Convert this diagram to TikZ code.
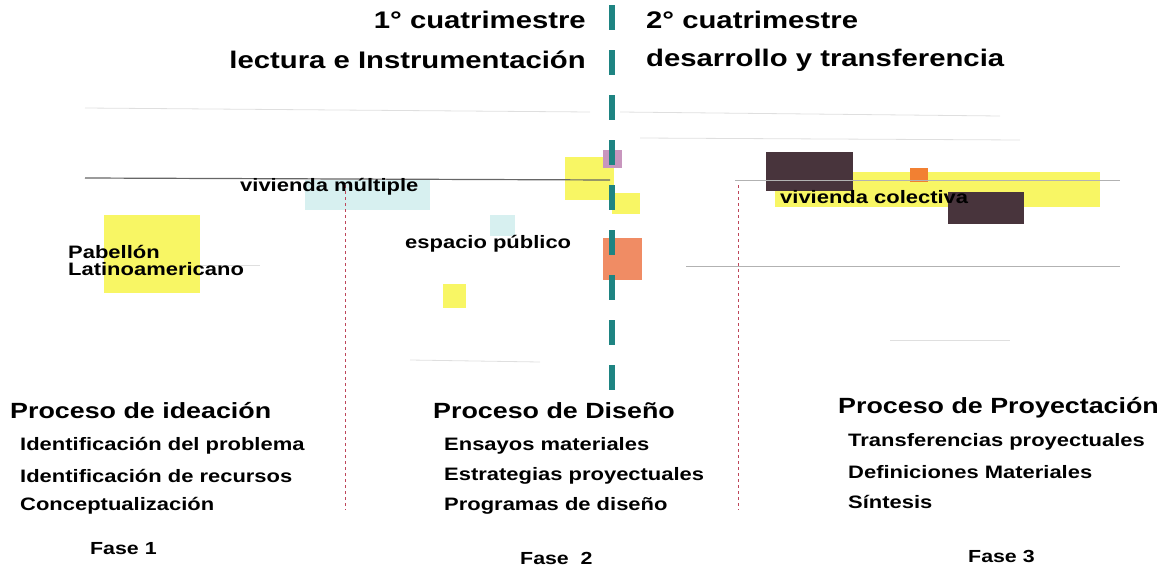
\documentclass[tikz,border=0pt]{standalone}
\usepackage{fontspec}
\setmainfont[FakeStretch=1.22]{Liberation Sans}
\usetikzlibrary{positioning}

\definecolor{eje}{RGB}{30,132,130}
\definecolor{limite}{RGB}{190,70,90}
\definecolor{amarillo}{RGB}{248,246,100}
\definecolor{naranja}{RGB}{240,140,100}
\definecolor{naranjo}{RGB}{242,128,50}
\definecolor{oscuro}{RGB}{72,52,60}
\definecolor{celeste}{RGB}{215,240,240}
\definecolor{rosado}{RGB}{200,150,190}

\begin{document}
\begin{tikzpicture}[x=1pt,y=-1pt,node distance=30pt,
	cuatri/.style={font=\bfseries\fontsize{24}{27}\selectfont,inner sep=0pt},
	proceso/.style={font=\bfseries\fontsize{22}{25}\selectfont,inner sep=0pt,anchor=west},
	tarea/.style={font=\bfseries\fontsize{18}{20}\selectfont,inner sep=0pt,anchor=west},
	fase/.style={font=\bfseries\fontsize{17.5}{20}\selectfont,inner sep=0pt,anchor=west},
	obra/.style={font=\bfseries\fontsize{18}{17}\selectfont,inner sep=0pt,anchor=west},
	linea/.style={gray!60,line width=1pt},
	tenue/.style={gray!25,line width=0.8pt}]
	\useasboundingbox (0,0) rectangle (1165,570);
	% manchas de color
	\fill[amarillo] (104,215) rectangle (200,293);
	\fill[amarillo] (565,157) rectangle (614,200);
	\fill[amarillo] (612,193) rectangle (640,214);
	\fill[amarillo] (443,284) rectangle (466,308);
	\fill[amarillo] (775,172) rectangle (1100,207);
	\fill[celeste] (305,180) rectangle (430,210);
	\fill[celeste] (490,215) rectangle (515,236);
	\fill[rosado] (603,150) rectangle (622,168);
	\fill[naranja] (603,238) rectangle (642,280);
	\fill[naranjo] (910,168) rectangle (928,182);
	\fill[oscuro] (766,152) rectangle (853,191);
	\fill[oscuro] (948,192) rectangle (1024,224);
	% lineas horizontales
	\draw[tenue] (85,108) -- (590,112);
	\draw[tenue] (620,112) -- (1000,116);
	\draw[tenue] (640,138) -- (1020,140);
	\draw[tenue] (890,340) -- (1010,340);
	\draw[tenue] (410,360) -- (540,362);
	\draw[gray!80!black,line width=1.2pt] (85,178) -- (610,180);
	\draw[linea] (735,180) -- (1120,180);
	\draw[linea] (686,266) -- (1120,266);
	\draw[tenue] (200,265) -- (260,265);
	% divisiones de fases
	\draw[limite,dashed,line width=0.9pt] (345,185) -- (345,510);
	\draw[limite,dashed,line width=0.9pt] (738,185) -- (738,510);
	% eje de cuatrimestres
	\draw[eje,line width=6pt,dash pattern=on 25pt off 20pt] (612,5) -- (612,390);

	\node[cuatri,anchor=east] (c1) at (586,20) {1° cuatrimestre};
	\node[cuatri,anchor=east] (l1) at (586,60) {lectura e Instrumentación};
	\node[cuatri,anchor=west] (c2) at (646,20) {2° cuatrimestre};
	\node[cuatri,anchor=west] (l2) at (646,60) {desarrollo y transferencia};

	\node[obra] (vm) at (240,187) {vivienda múltiple};
	\node[obra] (ep) at (405,244) {espacio público};
	\node[obra,align=left] (pl) at (68,260) {Pabellón\\Latinoamericano};
	\node[obra] (vc) at (780,197) {vivienda colectiva};

	\node[proceso] (p1) at (10,411) {Proceso de ideación};
	\node[tarea] (t11) at (20,446) {Identificación del problema};
	\node[tarea] (t12) [below=of t11.west,anchor=west] {Identificación de recursos};
	\node[tarea] (t13) [below=of t12.west,anchor=west] {Conceptualización};
	\node[fase] (f1) at (90,549) {Fase 1};

	\node[proceso] (p2) at (433,411) {Proceso de Diseño};
	\node[tarea] (t21) at (444,446) {Ensayos materiales};
	\node[tarea] (t22) [below=of t21.west,anchor=west] {Estrategias proyectuales};
	\node[tarea] (t23) [below=of t22.west,anchor=west] {Programas de diseño};
	\node[fase] (f2) at (520,558) {Fase~~2};

	\node[proceso] (p3) at (838,408) {Proceso de Proyectación};
	\node[tarea] (t31) at (848,442) {Transferencias proyectuales};
	\node[tarea] (t32) [below=of t31.west,anchor=west] {Definiciones Materiales};
	\node[tarea] (t33) [below=of t32.west,anchor=west] {Síntesis};
	\node[fase] (f3) at (968,556) {Fase 3};
\end{tikzpicture}
\end{document}
